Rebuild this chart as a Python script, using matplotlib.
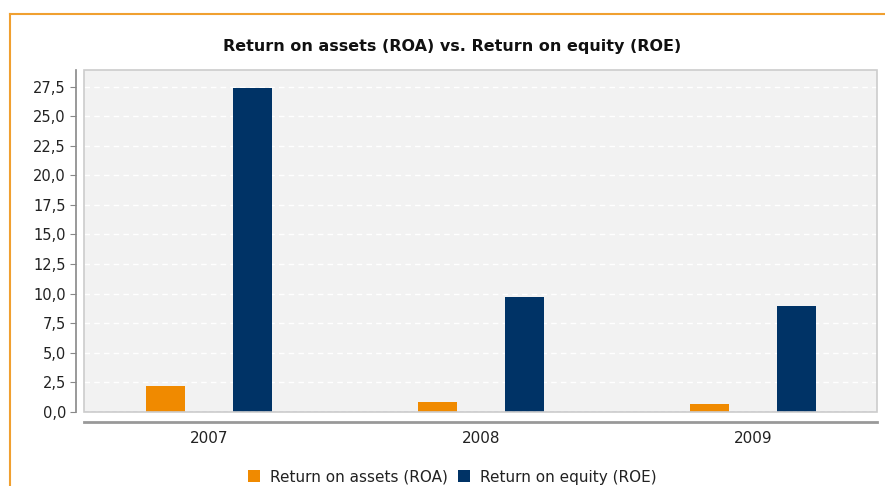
import numpy as np
import matplotlib.pyplot as plt
from matplotlib.patches import Rectangle
from matplotlib.lines import Line2D
from matplotlib.ticker import FuncFormatter

years = ["2007", "2008", "2009"]
roa = [2.2, 0.82, 0.70]
roe = [27.4, 9.7, 8.93]
yticks = np.arange(0, 27.6, 2.5)

orange = "#f08a00"
navy = "#003366"

fig = plt.figure(figsize=(8.85, 4.86), dpi=100)

# orange frame, cut off at right and bottom
fig.add_artist(Line2D([10 / 885, 1.0], [1 - 14 / 486, 1 - 14 / 486], color="#f0a030", lw=1.5))
fig.add_artist(Line2D([10 / 885, 10 / 885], [0.0, 1 - 14 / 486], color="#f0a030", lw=1.5))

ax = fig.add_axes([84 / 885, 74 / 486, 793 / 885, 342 / 486])
ax.set_facecolor("#f2f2f2")

x = np.arange(len(years))
w = 0.145
ax.bar(x - 0.16, roa, w, color=orange, label="Return on assets (ROA)", zorder=3)
ax.bar(x + 0.16, roe, w, color=navy, label="Return on equity (ROE)", zorder=3)

ax.set_xlim(-0.46, 2.456)
ax.set_ylim(0, 28.9)
ax.set_yticks(yticks)
ax.yaxis.set_major_formatter(FuncFormatter(lambda v, p: f"{v:.1f}".replace(".", ",")))
ax.set_xticks(x)
ax.set_xticklabels(years)

for v in yticks[1:]:
    ax.axhline(v, color="white", lw=1, ls=(0, (4, 3)), zorder=1)
ax.axhline(0, color="#9999cc", lw=1, ls=(0, (3, 2)), zorder=4)

# plot area border
ax.add_patch(Rectangle((0, 0), 1, 1, transform=ax.transAxes, fill=False,
                       edgecolor="#cccccc", lw=1.2, zorder=5, clip_on=False))

for s in ["top", "right"]:
    ax.spines[s].set_visible(False)
ax.spines["left"].set_position(("outward", 6))
ax.spines["left"].set_color("#888888")
ax.spines["left"].set_linewidth(1.2)
ax.spines["bottom"].set_position(("outward", 7))
ax.spines["bottom"].set_color("#999999")
ax.spines["bottom"].set_linewidth(2)

ax.tick_params(axis="y", colors="#888888", labelcolor="#222222", length=4, labelsize=10.5, pad=3)
ax.tick_params(axis="x", length=0, labelcolor="#222222", labelsize=11, pad=7)

fig.text(0.511, 1 - 46 / 486, "Return on assets (ROA) vs. Return on equity (ROE)",
         ha="center", va="center", fontsize=11.5, fontweight="bold", color="#111111")

fig.legend(loc="center", bbox_to_anchor=(0.511, 1 - 477 / 486), ncol=2, frameon=False,
           fontsize=11, handlelength=0.8, handleheight=0.8, handletextpad=0.6,
           columnspacing=0.7, labelcolor="#222222")

fig.savefig("out.png", dpi=100)
